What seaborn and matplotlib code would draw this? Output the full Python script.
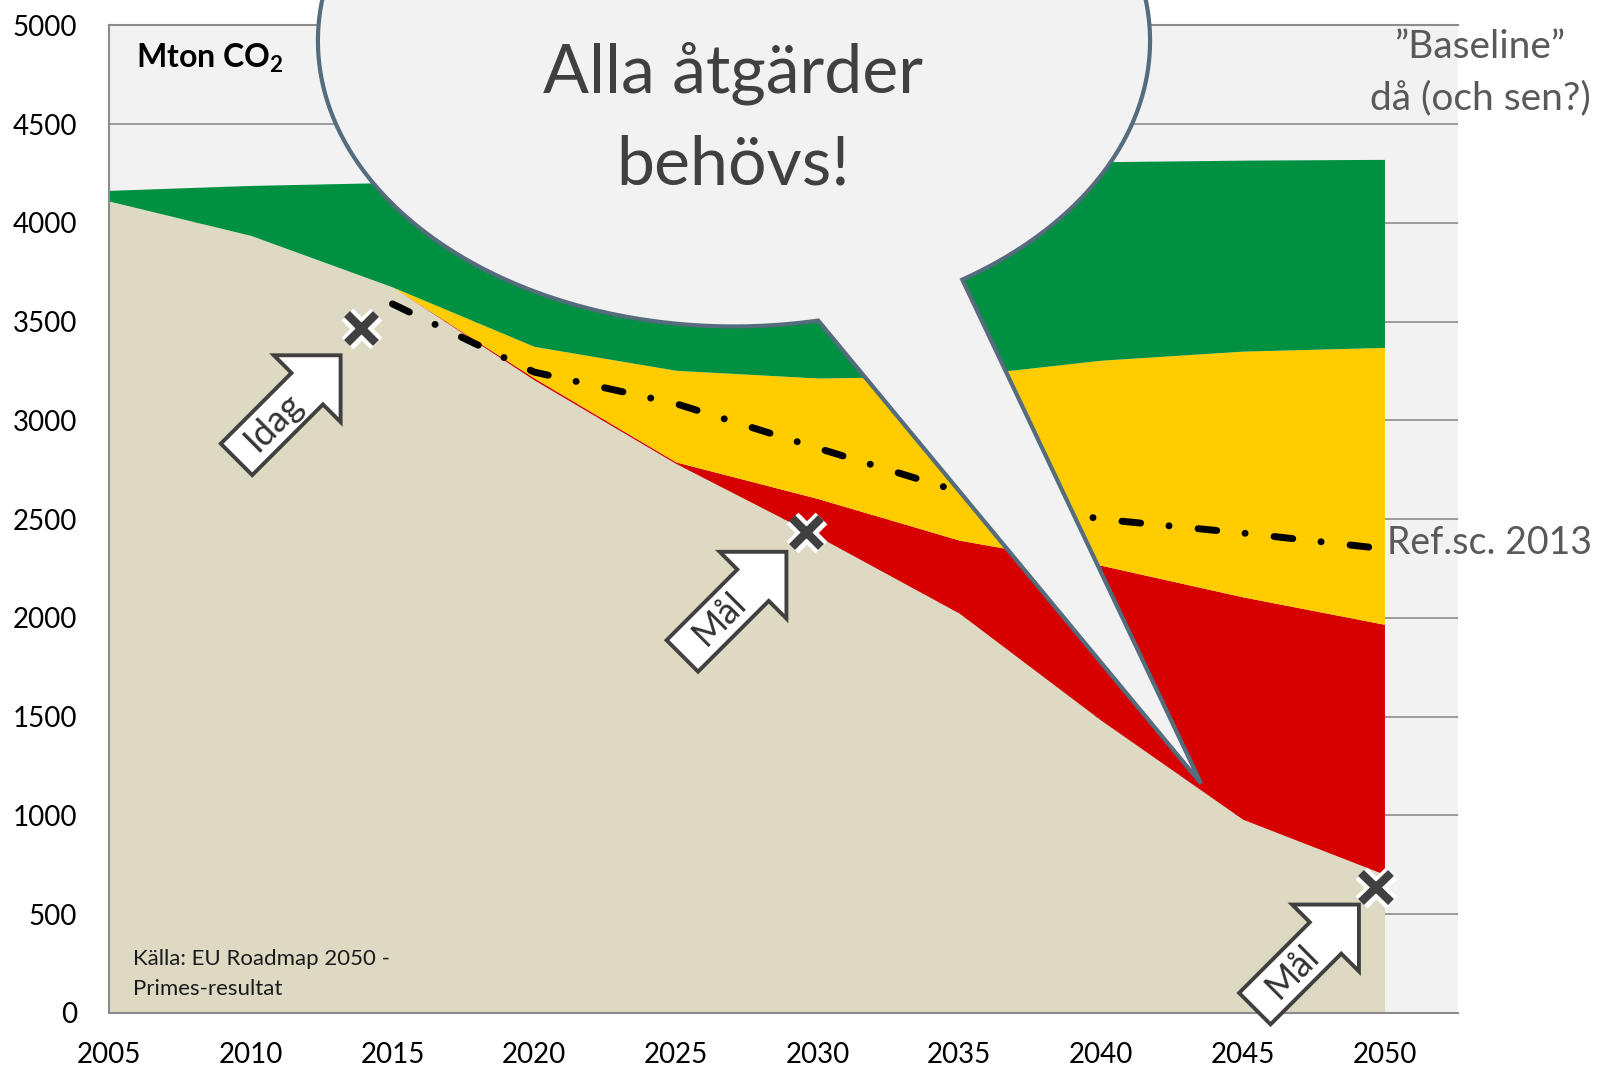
import numpy as np
import matplotlib
matplotlib.use("Agg")
import matplotlib.pyplot as plt
import matplotlib.patches as mpatches
import matplotlib.transforms as mtransforms
import matplotlib.patheffects as pe
import seaborn as sns

# --- data (Mton CO2) ---
years = [2005, 2010, 2015, 2020, 2025, 2030, 2035, 2040, 2045, 2050]
base_emissions = [4111, 3937, 3676, 3205, 2782, 2414, 2024, 1482, 981, 702]
red_measures = [0, 0, 0, 10, 8, 191, 370, 785, 1126, 1266]
yellow_measures = [0, 0, 0, 160, 464, 610, 831, 1038, 1244, 1402]
green_measures = [54, 253, 529, 850, 996, 1055, 1065, 1005, 967, 952]

ref_years = [2015, 2020, 2025, 2030, 2035, 2040, 2045, 2050]
ref_scenario = [3590, 3245, 3085, 2860, 2640, 2500, 2430, 2350]

goal_years = [2013.9, 2029.6, 2049.7]
goal_values = [3465, 2432, 637]

arrow_labels = ["Idag", "Mål", "Mål"]
arrow_tip_x = [2013.17, 2028.9, 2049.1]
arrow_tip_y = [3330, 2335, 549]

y_ticks = list(range(0, 5001, 500))
x_ticks = years

layer_colors = ["#DDD9C3", "#D70000", "#FFCC00", "#009041"]
grid_grey = "#8C8C8C"

sns.set_style("white")
plt.rcParams["font.family"] = ["Lato", "DejaVu Sans"]
plt.rcParams["mathtext.fontset"] = "custom"
plt.rcParams["mathtext.rm"] = "Lato"
plt.rcParams["mathtext.bf"] = "Lato:bold"

fig = plt.figure(figsize=(15.99, 10.69), dpi=100)
ax = fig.add_axes([0.0682, 0.0524, 0.8437, 0.9238])
ax.set_facecolor("#F2F2F2")

ax.stackplot(
    years,
    base_emissions,
    red_measures,
    yellow_measures,
    green_measures,
    colors=layer_colors,
    linewidth=0,
    zorder=1,
)

# reference scenario 2013, dash-dot
sns.lineplot(
    x=ref_years,
    y=ref_scenario,
    ax=ax,
    color="black",
    lw=5,
    linestyle=(0, (2.7, 4.1, 0.01, 4.2)),
    dash_capstyle="round",
    zorder=3,
)

# goal crosses
ax.plot(
    goal_years,
    goal_values,
    ls="none",
    marker="x",
    ms=21,
    mew=6,
    color="#404040",
    zorder=4,
    clip_on=False,
    path_effects=[pe.Stroke(linewidth=12, foreground="white"), pe.Normal()],
)

# block arrows pointing up-right
L, HL, HW, BW = 106, 34, 34, 16
arrow_shape = [(0, 0), (-HL, HW), (-HL, BW), (-L, BW), (-L, -BW), (-HL, -BW), (-HL, -HW)]
for tx, ty, label in zip(arrow_tip_x, arrow_tip_y, arrow_labels):
    trans = (
        mtransforms.Affine2D().rotate_deg(45).scale(fig.dpi / 72)
        + mtransforms.ScaledTranslation(tx, ty, ax.transData)
    )
    ax.add_patch(
        mpatches.Polygon(
            arrow_shape,
            closed=True,
            transform=trans,
            facecolor="white",
            edgecolor="#404040",
            lw=2.8,
            joinstyle="miter",
            zorder=5,
            clip_on=False,
        )
    )
    d = 68 / np.sqrt(2)
    ax.annotate(
        label,
        xy=(tx, ty),
        xytext=(-d, -d),
        textcoords="offset points",
        rotation=45,
        rotation_mode="anchor",
        ha="center",
        va="center",
        fontsize=26,
        color="#333333",
        zorder=6,
    )

# speech bubble
cx, cy, a, b = 2027.05, 4922, 14.68, 1446
joint1 = (2030.04, 3497)
joint2 = (2035.14, 3708)
tail_tip = (2043.53, 1162)
t1 = np.arctan2((joint1[1] - cy) / b, (joint1[0] - cx) / a)
t2 = np.arctan2((joint2[1] - cy) / b, (joint2[0] - cx) / a)
t = np.linspace(t2, t1 + 2 * np.pi, 400)
verts = list(zip(cx + a * np.cos(t), cy + b * np.sin(t))) + [tail_tip]
ax.add_patch(
    mpatches.Polygon(
        verts,
        closed=True,
        facecolor="#F2F2F2",
        edgecolor="#546C7C",
        lw=3,
        zorder=7,
        clip_on=False,
    )
)
ax.text(2027.0, 4760, "Alla åtgärder", fontsize=49, ha="center", va="center",
        color="#404040", zorder=8, clip_on=False)
ax.text(2027.0, 4290, "behövs!", fontsize=49, ha="center", va="center",
        color="#404040", zorder=8)

# texts
ax.text(2005.94, 4834, r"Mton CO$_\mathbf{2}$", fontsize=23, fontweight="bold",
        va="center", ha="left", color="black", zorder=2)
ax.text(2053.4, 4890, "”Baseline”", fontsize=28, ha="center", va="center",
        color="#595959", clip_on=False)
ax.text(2053.4, 4629, "då (och sen?)", fontsize=28, ha="center", va="center",
        color="#595959", clip_on=False)
ax.text(2050.08, 2381, "Ref.sc. 2013", fontsize=27, ha="left", va="center",
        color="#595959", clip_on=False, zorder=2)
ax.text(2005.83, 274, "Källa: EU Roadmap 2050 -", fontsize=16, ha="left",
        va="center", color="#1a1a1a", zorder=2)
ax.text(2005.83, 119, "Primes-resultat", fontsize=16, ha="left",
        va="center", color="#1a1a1a", zorder=2)

# axes styling
ax.set_xlim(2005, 2052.6)
ax.set_ylim(0, 5000)
ax.set_xticks(x_ticks)
ax.set_yticks(y_ticks)
ax.set_axisbelow(True)
ax.yaxis.grid(True, color=grid_grey, lw=1.2)
ax.xaxis.grid(False)
ax.tick_params(axis="both", length=0, labelsize=20, colors="black")
ax.tick_params(axis="x", pad=21)
ax.tick_params(axis="y", pad=23)
ax.set_xlabel("")
ax.set_ylabel("")
for side in ["left", "bottom", "top"]:
    ax.spines[side].set_color(grid_grey)
    ax.spines[side].set_linewidth(1.5)
ax.spines["right"].set_visible(False)

fig.savefig("out.png", dpi=100)
